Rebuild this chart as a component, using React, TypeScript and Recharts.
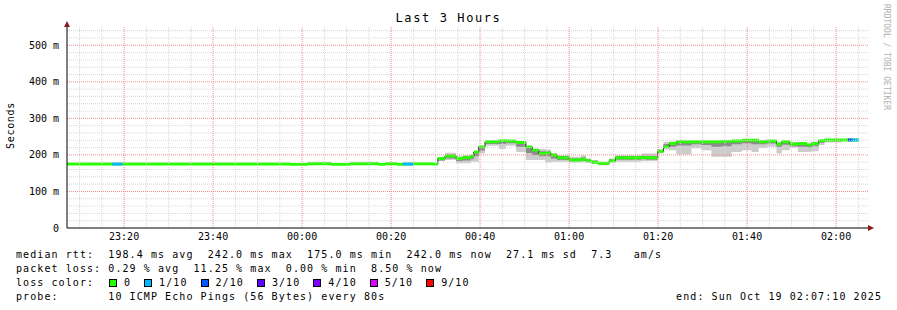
import { ComposedChart, Area, XAxis, YAxis, ReferenceLine } from "recharts"

// sample start times in minutes after 23:00 (graph spans 23:07:10 .. 02:07:10)
const sampleStart = [
  7.17, 17.3, 19.6, 57.4, 61.2, 66.6, 70.7, 77.2, 78.6, 81.3, 82.6, 85.1, 89.4,
  90.5, 92.1, 94.6, 96.1, 97.9, 98.6, 99.7, 101.1, 104.2, 105.8, 108.1, 110.3,
  111.7, 113.2, 114.6, 115.9, 117.3, 120.0, 122.7, 123.8, 124.9, 126.5, 129.0,
  130.4, 136.2, 137.3, 139.9, 141.2, 142.5, 144.1, 147.5, 149.7, 152.0, 154.2,
  156.5, 158.8, 161.0, 162.6, 164.4, 166.6, 167.8, 169.6, 171.4, 173.4, 174.5,
  176.1, 177.4, 181.3, 182.6, 183.7,
]
const lastSampleEnd = 185.1

// median rtt, ms
const median = [
  175, 175, 175, 174, 176, 174, 176, 174, 176, 174, 175, 176, 175,
  190, 197, 190, 193, 197, 208, 222, 236, 239, 238, 234, 222,
  213, 204, 206, 199, 192, 186, 188, 184, 180, 177, 184,
  192, 193, 192, 210, 222, 231, 236, 236, 236, 236, 237,
  238, 240, 240, 236, 238, 230, 236, 230, 231, 227, 231,
  239, 241, 241, 241, 241,
]

// smoke: full spread of the pings
const smokeLo = [
  174, 174, 174, 173, 175, 173, 175, 173, 175, 173, 174, 175, 174,
  183, 186, 177, 177, 182, 181, 204, 225, 216, 225, 208, 186,
  186, 186, 179, 181, 181, 179, 180, 179, 175, 172, 179,
  181, 183, 183, 204, 215, 213, 201, 218, 213, 195, 195,
  208, 213, 208, 219, 222, 204, 213, 219, 208, 208, 210,
  227, 234, 241, 241, 241,
]
const smokeHi = [
  176, 176, 176, 175, 181, 176, 181, 178, 180, 177, 180, 178, 177,
  192, 206, 196, 199, 199, 210, 224, 240, 241, 240, 236, 224,
  215, 216, 215, 204, 199, 195, 199, 190, 186, 179, 190,
  199, 204, 204, 215, 236, 236, 239, 239, 239, 239, 240,
  240, 242, 242, 240, 241, 236, 238, 236, 234, 231, 236,
  241, 242, 241, 241, 241,
]

// smoke: inner (darker) part
const coreLo = [
  175, 175, 175, 174, 176, 174, 176, 174, 176, 174, 175, 176, 175,
  185, 190, 183, 185, 188, 196, 212, 230, 230, 232, 222, 205,
  200, 196, 196, 190, 186, 183, 184, 181, 177, 174, 181,
  187, 188, 187, 207, 219, 222, 226, 229, 227, 222, 224,
  229, 232, 229, 229, 231, 222, 228, 224, 222, 220, 224,
  233, 238, 241, 241, 241,
]
const coreHi = [
  175, 175, 175, 174, 177, 174, 177, 175, 177, 175, 176, 176, 175,
  191, 200, 193, 196, 199, 210, 224, 238, 240, 239, 236, 224,
  215, 210, 210, 203, 197, 190, 193, 188, 184, 178, 188,
  196, 198, 197, 213, 230, 233, 238, 238, 238, 238, 239,
  239, 241, 241, 238, 239, 232, 237, 232, 233, 229, 233,
  240, 241, 241, 241, 241,
]

// lost pings out of 10 per sample
const lossTenths = [
  0, 1, 0, 0, 0, 0, 0, 0, 0, 0, 1, 0, 0,
  0, 0, 0, 0, 0, 0, 0, 0, 0, 0, 0, 0,
  0, 0, 0, 0, 0, 0, 0, 0, 0, 0, 0,
  0, 0, 0, 0, 0, 0, 0, 0, 0, 0, 0,
  0, 0, 0, 0, 0, 0, 0, 0, 0, 0, 0,
  0, 0, 0, 2, 1,
]

const lossLabels = ["0", "1/10", "2/10", "3/10", "4/10", "5/10", "9/10"]
const lossColors = ["#26ff00", "#00b8ff", "#0059ff", "#5e00ff", "#7e00ff", "#dd00ff", "#ff0000"]

const xTicks = [20, 40, 60, 80, 100, 120, 140, 160, 180]
const yTicks = [0, 100, 200, 300, 400, 500]

const START = 7 + 10 / 60
const END = START + 180
const Y_MAX = 550
const HALF = 4 // half thickness of the median band, ms

const rows = sampleStart.map((t, i) => ({
  t,
  med: median[i],
  loss: lossTenths[i],
  smoke: [smokeLo[i], smokeHi[i]],
  core: [coreLo[i], coreHi[i]],
}))
rows.push({ ...rows[rows.length - 1], t: lastSampleEnd })

const data = rows.map((r, i) => {
  const prev = i > 0 ? rows[i - 1].loss : r.loss
  const band = (lvl: number) =>
    r.loss === lvl || prev === lvl ? [r.med - HALF, r.med + HALF] : null
  return { ...r, band0: [r.med - HALF, r.med + HALF], band1: band(1), band2: band(2) }
})

const minorX: number[] = []
for (let m = 10; m <= 185; m += 5) if (m % 20 !== 0) minorX.push(m)
const minorY: number[] = []
for (let v = 20; v <= 540; v += 20) if (v % 100 !== 0) minorY.push(v)
const majorY = [100, 200, 300, 400, 500]

function clock(m: number): string {
  const total = (23 * 60 + m) % 1440
  const h = Math.floor(total / 60)
  const mm = Math.round(total % 60)
  return `${String(h).padStart(2, "0")}:${String(mm).padStart(2, "0")}`
}

const mono = "'DejaVu Sans Mono', monospace"
const tickStyle = { fill: "#000", fontSize: 10, fontFamily: mono }
const rowText = {
  position: "absolute" as const,
  left: 16,
  fontSize: 10,
  lineHeight: "14px",
  letterSpacing: "1.08px",
  whiteSpace: "pre" as const,
  color: "#000",
}

export default function App() {
  return (
    <div style={{ position: "relative", width: 897, height: 310, background: "#fff", fontFamily: mono, overflow: "hidden" }}>
      <style>{"body{margin:0}"}</style>
      <div style={{ position: "absolute", top: 11, left: 0, width: 897, textAlign: "center", fontSize: 12, letterSpacing: "1.6px" }}>
        Last 3 Hours
      </div>
      <div style={{ position: "absolute", left: -16, top: 120, width: 52, textAlign: "center", fontSize: 10, letterSpacing: "0.7px", transform: "rotate(-90deg)" }}>
        Seconds
      </div>
      <div style={{ position: "absolute", left: 882, top: 4, fontSize: 8, color: "#b0b0b0", writingMode: "vertical-rl", whiteSpace: "pre" }}>
        RRDTOOL / TOBI OETIKER
      </div>

      <ComposedChart width={897} height={310} data={data} margin={{ top: 27, right: 29, bottom: 62, left: 7 }}>
        {minorX.map((m) => (
          <ReferenceLine key={`mx${m}`} x={m} stroke="#d6d6d6" strokeDasharray="1 1" />
        ))}
        {minorY.map((v) => (
          <ReferenceLine key={`my${v}`} y={v} stroke="#d6d6d6" strokeDasharray="1 1" />
        ))}
        {xTicks.map((m) => (
          <ReferenceLine key={`Mx${m}`} x={m} stroke="#f08c8c" strokeDasharray="1 1" />
        ))}
        {majorY.map((v) => (
          <ReferenceLine key={`My${v}`} y={v} stroke="#f08c8c" strokeDasharray="1 1" />
        ))}
        <XAxis
          dataKey="t"
          type="number"
          domain={[START, END]}
          ticks={xTicks}
          tickFormatter={clock}
          tick={tickStyle}
          tickLine={false}
          tickSize={3}
          height={20}
          axisLine={{ stroke: "#000" }}
          allowDataOverflow
        />
        <YAxis
          type="number"
          domain={[0, Y_MAX]}
          ticks={yTicks}
          tickFormatter={(v: number) => (v === 0 ? "0" : `${v} m`)}
          tick={tickStyle}
          tickLine={false}
          width={60}
          axisLine={{ stroke: "#000" }}
          allowDataOverflow
        />
        <Area dataKey="smoke" type="stepAfter" fill="#cccccc" fillOpacity={1} stroke="none" isAnimationActive={false} />
        <Area dataKey="core" type="stepAfter" fill="#8c8c8c" fillOpacity={1} stroke="none" isAnimationActive={false} />
        <Area dataKey="med" type="stepAfter" fill="none" stroke="#202020" strokeWidth={1} isAnimationActive={false} />
        <Area dataKey="band0" type="stepAfter" fill={lossColors[0]} fillOpacity={1} stroke="none" isAnimationActive={false} />
        <Area dataKey="band1" type="stepAfter" fill={lossColors[1]} fillOpacity={1} stroke="none" isAnimationActive={false} />
        <Area dataKey="band2" type="stepAfter" fill={lossColors[2]} fillOpacity={1} stroke="none" isAnimationActive={false} />
      </ComposedChart>

      <svg width={897} height={310} style={{ position: "absolute", left: 0, top: 0, pointerEvents: "none" }}>
        <polygon points="67,21 64,27 70,27" fill="#8b1a1a" />
        <polygon points="874,228 868,225 868,231" fill="#8b1a1a" />
      </svg>

      <div style={{ ...rowText, top: 248 }}>
        {"median rtt:  198.4 ms avg  242.0 ms max  175.0 ms min  242.0 ms now  27.1 ms sd  7.3   am/s"}
      </div>
      <div style={{ ...rowText, top: 262 }}>
        {"packet loss: 0.29 % avg  11.25 % max  0.00 % min  8.50 % now"}
      </div>
      <div style={{ ...rowText, top: 276, display: "flex", alignItems: "center" }}>
        <span style={{ width: 93 }}>{"loss color:"}</span>
        {lossLabels.map((lbl, i) => (
          <span key={lbl} style={{ display: "flex", alignItems: "center" }}>
            <span style={{ width: 6, height: 6, background: lossColors[i], border: "1px solid #000", marginRight: 7 }} />
            <span style={{ marginRight: 13 }}>{lbl}</span>
          </span>
        ))}
      </div>
      <div style={{ ...rowText, top: 290 }}>
        {"probe:       10 ICMP Echo Pings (56 Bytes) every 80s"}
      </div>
      <div style={{ ...rowText, left: "auto", right: 15, top: 290 }}>
        {"end: Sun Oct 19 02:07:10 2025"}
      </div>
    </div>
  )
}
